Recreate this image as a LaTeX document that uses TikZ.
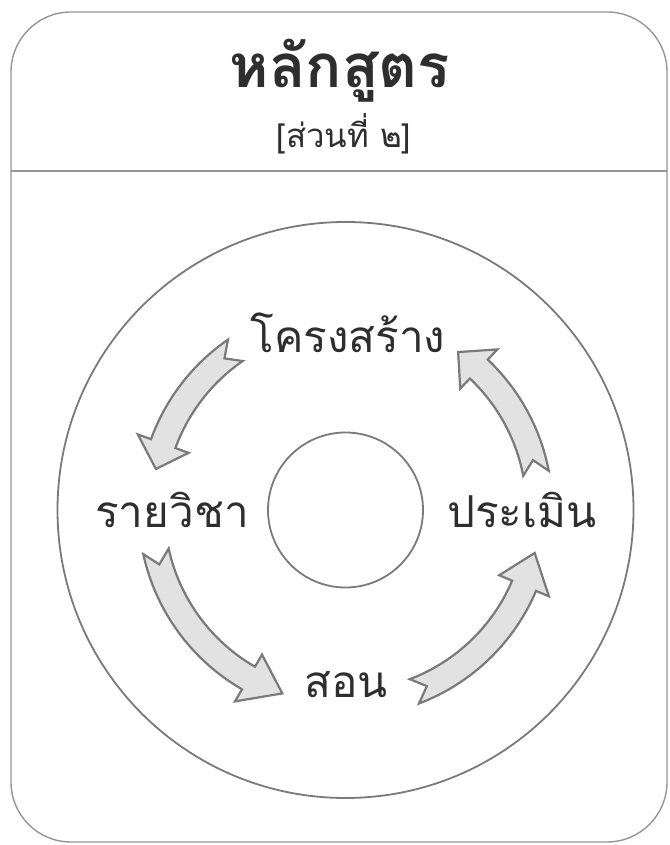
\documentclass[tikz,border=0pt]{standalone}
\usepackage{fontspec}
\usepackage{xcolor}
\usepackage{tikz}
\usetikzlibrary{positioning}
\newfontfamily\thaifont[Script=Thai]{Loma}
\definecolor{inkgray}{HTML}{2E2E2E}
\definecolor{linegray}{HTML}{7A7A7A}
\definecolor{arrowfill}{HTML}{E2E2E2}

% curved block arrow round the hub: tail angle, head-base angle, tip angle
\newcommand{\cyclearrow}[3]{%
  \draw[cyclearrow] (#1:207) arc[start angle=#1, end angle=#2, radius=207]
    -- (#2:221) -- (#3:194) -- (#2:167) -- (#2:181)
    arc[start angle=#2, end angle=#1, radius=181] -- ({#1+4}:194) -- cycle;}

\begin{document}
\begin{tikzpicture}[
    x=1pt, y=1pt,
    font=\thaifont,
    frame/.style = {draw=linegray!80, line width=1.4pt, rounded corners=60pt},
    ring/.style = {draw=linegray, line width=1.8pt},
    label/.style = {text=inkgray, font=\thaifont\fontsize{44}{48}\selectfont, anchor=base, inner sep=0pt},
    cyclearrow/.style = {draw=linegray, line width=2.2pt, fill=arrowfill, line join=miter}
]
    \useasboundingbox (0,0) rectangle (669,845);
    \draw[frame] (11,3) rectangle (667,833);
    \draw[draw=linegray!80, line width=1.4pt] (11,674) -- (667,674);

    \node[text=inkgray, font=\thaifont\bfseries\fontsize{60}{64}\selectfont, anchor=base, inner sep=0pt] (title) at (340,757) {หลักสูตร};
    \node[text=inkgray, font=\thaifont\fontsize{33}{36}\selectfont, anchor=base, inner sep=0pt] (subtitle) at (344,697) {[ส่วนที่ ๒]};

    \coordinate (hub) at (345.5,335);
    \draw[ring] (hub) circle[radius=288];
    \draw[ring] (hub) circle[radius=77.5];

    \node[label] (struct) at (348,492) {โครงสร้าง};
    \node[label] (course) at (172,317) {รายวิชา};
    \node[label] (assess) at (522,317) {ประเมิน};
    \node[label] (teach) at (346,147) {สอน};

    \begin{scope}[shift={(hub)}]
        \cyclearrow{124.6}{160}{167.8}
        \cyclearrow{192.3}{240}{251}
        \cyclearrow{290.8}{337}{347.2}
        \cyclearrow{10.9}{46.6}{54.5}
    \end{scope}
\end{tikzpicture}
\end{document}
